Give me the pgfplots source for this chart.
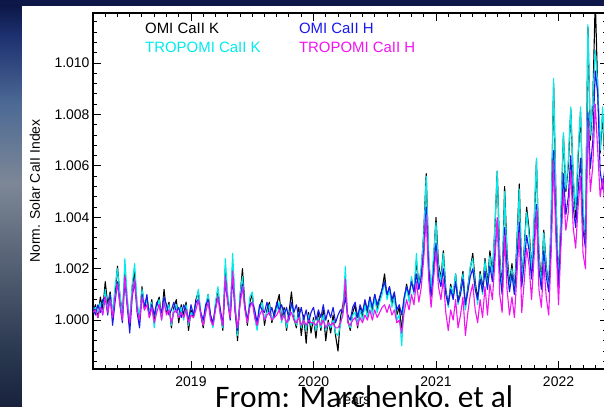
\documentclass[border=0pt]{standalone}
\usepackage{fontspec}
\setmainfont{Liberation Sans}
\newfontfamily\slidefont{Carlito}
\usepackage{pgfplots}
\usepackage{pgfplotstable}
\pgfplotsset{compat=1.18}

% series colours
\definecolor{omik}{RGB}{0,0,0}
\definecolor{tropk}{RGB}{0,235,235}
\definecolor{omih}{RGB}{25,25,235}
\definecolor{troph}{RGB}{240,20,240}

% slide background (TikZ maps the 25bp..75bp band of a shading onto the path)
\definecolor{slidetop}{RGB}{13,24,72}
\definecolor{bgA}{RGB}{29,48,112}
\definecolor{bgB}{RGB}{77,106,149}
\definecolor{bgC}{RGB}{125,135,150}
\definecolor{bgD}{RGB}{90,102,120}
\definecolor{bgE}{RGB}{42,56,80}
\definecolor{bgF}{RGB}{24,34,60}
\pgfdeclareverticalshading{slidestrip}{100bp}{%
  color(0bp)=(bgF); color(25bp)=(bgF); color(31.9bp)=(bgE); color(44.2bp)=(bgD);
  color(52.8bp)=(bgC); color(62.7bp)=(bgB); color(71.3bp)=(bgA);
  color(75bp)=(slidetop); color(100bp)=(slidetop)}

% normalised Ca II index: time [yr], OMI K, TROPOMI K, OMI H, TROPOMI H
\pgfplotstableread{
t K TK H TH
2018.20 1.0003 1.0004 1.0005 1.0003
2018.22 1.0006 1.0005 1.0002 1.0004
2018.24 1.0001 1.0003 1.0006 1.0001
2018.26 1.0009 1.0007 1.0003 1.0005
2018.28 1.0004 1.0002 1.0008 1.0002
2018.30 1.0015 1.0012 1.0009 1.0009
2018.32 1.0006 1.0004 1.0002 1.0003
2018.34 1.0011 1.0010 1.0010 1.0008
2018.36 1.0002 1.0003 0.9998 1.0001
2018.38 1.0010 1.0013 1.0007 1.0009
2018.40 1.0021 1.0020 1.0015 1.0014
2018.42 1.0009 1.0010 1.0006 1.0006
2018.44 1.0003 1.0001 0.9999 1.0000
2018.46 1.0018 1.0024 1.0016 1.0017
2018.48 1.0007 1.0009 1.0005 1.0006
2018.50 0.9998 0.9999 0.9995 0.9999
2018.52 1.0013 1.0014 1.0009 1.0010
2018.54 1.0019 1.0022 1.0015 1.0016
2018.56 1.0005 1.0007 1.0003 1.0004
2018.58 1.0000 1.0001 0.9997 1.0000
2018.60 1.0013 1.0012 1.0010 1.0009
2018.62 1.0004 1.0006 1.0005 1.0004
2018.64 1.0009 1.0008 1.0010 1.0006
2018.66 1.0002 1.0003 1.0001 1.0001
2018.68 1.0008 1.0007 1.0006 1.0005
2018.70 0.9999 0.9997 1.0002 0.9999
2018.72 1.0006 1.0005 1.0007 1.0003
2018.74 1.0009 1.0008 1.0005 1.0006
2018.76 1.0001 1.0000 1.0003 1.0000
2018.78 1.0012 1.0009 1.0009 1.0007
2018.80 1.0003 1.0004 1.0006 1.0002
2018.82 1.0007 1.0006 1.0002 1.0004
2018.84 0.9997 0.9998 1.0004 0.9999
2018.86 1.0005 1.0004 1.0007 1.0003
2018.88 1.0008 1.0006 1.0003 1.0004
2018.90 0.9999 1.0001 1.0005 1.0001
2018.92 1.0006 1.0005 1.0001 1.0003
2018.94 1.0002 1.0000 1.0006 1.0001
2018.96 1.0007 1.0006 1.0004 1.0004
2018.98 0.9996 0.9998 1.0000 0.9999
2019.00 1.0004 1.0003 1.0006 1.0002
2019.02 1.0001 1.0002 1.0002 1.0001
2019.04 1.0008 1.0006 1.0007 1.0004
2019.06 1.0011 1.0012 1.0008 1.0008
2019.08 1.0002 1.0003 1.0003 1.0002
2019.10 0.9997 0.9998 1.0000 0.9998
2019.12 1.0005 1.0006 1.0006 1.0003
2019.14 1.0010 1.0010 1.0008 1.0007
2019.16 1.0001 1.0000 1.0002 1.0000
2019.18 0.9998 0.9997 0.9999 0.9998
2019.20 1.0006 1.0007 1.0005 1.0004
2019.22 1.0012 1.0013 1.0009 1.0009
2019.24 1.0003 1.0002 1.0004 1.0002
2019.26 0.9996 0.9997 0.9998 0.9998
2019.28 1.0020 1.0024 1.0015 1.0017
2019.30 1.0008 1.0010 1.0007 1.0007
2019.32 1.0002 1.0003 1.0000 1.0001
2019.34 1.0022 1.0026 1.0017 1.0019
2019.36 1.0005 1.0007 1.0003 1.0004
2019.38 0.9992 0.9994 0.9996 0.9997
2019.40 1.0009 1.0010 1.0007 1.0006
2019.42 1.0020 1.0017 1.0014 1.0013
2019.44 1.0006 1.0005 1.0005 1.0004
2019.46 0.9998 0.9999 1.0000 0.9999
2019.48 1.0007 1.0009 1.0006 1.0005
2019.50 1.0010 1.0011 1.0007 1.0007
2019.52 1.0002 1.0001 1.0004 1.0001
2019.54 0.9997 0.9996 0.9999 0.9998
2019.56 1.0005 1.0004 1.0006 1.0002
2019.58 1.0008 1.0007 1.0004 1.0004
2019.60 0.9998 1.0000 1.0003 1.0000
2019.62 1.0004 1.0003 1.0007 1.0002
2019.64 1.0007 1.0006 1.0002 1.0003
2019.66 0.9999 1.0000 1.0005 1.0000
2019.68 1.0003 1.0002 1.0001 1.0001
2019.70 1.0006 1.0004 1.0007 1.0002
2019.72 1.0010 1.0007 1.0004 1.0004
2019.74 1.0000 0.9999 1.0006 1.0000
2019.76 1.0005 1.0004 1.0002 1.0002
2019.78 0.9996 0.9997 1.0005 0.9999
2019.80 1.0003 1.0002 1.0000 1.0001
2019.82 1.0011 1.0006 1.0007 1.0003
2019.84 1.0001 1.0002 1.0003 1.0000
2019.86 0.9997 0.9998 1.0006 0.9999
2019.88 1.0005 1.0003 1.0001 1.0001
2019.90 0.9994 0.9997 1.0005 0.9998
2019.92 1.0002 1.0001 1.0000 1.0000
2019.94 0.9991 0.9996 1.0004 0.9998
2019.96 1.0003 1.0002 0.9999 1.0000
2019.98 0.9995 0.9998 1.0003 0.9999
2020.00 1.0001 1.0000 1.0005 0.9999
2020.02 0.9993 0.9996 1.0000 0.9998
2020.04 1.0003 1.0001 1.0004 1.0000
2020.06 0.9996 0.9997 1.0001 0.9998
2020.08 1.0004 1.0002 1.0006 1.0000
2020.10 0.9992 0.9996 1.0000 0.9997
2020.12 1.0000 0.9999 1.0004 0.9999
2020.14 0.9995 0.9997 1.0001 0.9998
2020.16 1.0002 1.0000 1.0005 0.9999
2020.18 0.9994 0.9995 0.9999 0.9997
2020.20 0.9988 0.9994 1.0002 0.9997
2020.22 1.0001 0.9998 1.0004 0.9999
2020.24 1.0006 1.0004 1.0003 1.0002
2020.26 1.0013 1.0021 1.0009 1.0016
2020.28 1.0000 0.9999 1.0002 0.9999
2020.30 0.9996 0.9997 1.0000 0.9998
2020.32 1.0003 1.0002 1.0005 1.0000
2020.34 1.0006 1.0003 1.0007 1.0001
2020.36 0.9997 0.9998 1.0001 0.9998
2020.38 1.0005 1.0004 1.0006 1.0001
2020.40 1.0001 1.0000 1.0003 0.9999
2020.42 1.0007 1.0006 1.0008 1.0002
2020.44 1.0002 1.0001 1.0004 1.0000
2020.46 1.0009 1.0008 1.0009 1.0004
2020.48 1.0003 1.0002 1.0005 1.0000
2020.50 1.0010 1.0009 1.0010 1.0004
2020.52 1.0004 1.0003 1.0006 1.0001
2020.54 1.0008 1.0007 1.0009 1.0003
2020.56 1.0012 1.0010 1.0012 1.0005
2020.58 1.0018 1.0015 1.0015 1.0006
2020.60 1.0009 1.0008 1.0010 1.0003
2020.62 1.0013 1.0012 1.0013 1.0006
2020.64 1.0006 1.0005 1.0008 1.0002
2020.66 1.0010 1.0009 1.0011 1.0004
2020.68 1.0002 1.0000 1.0004 0.9999
2020.70 1.0005 1.0002 1.0006 1.0000
2020.72 0.9996 0.9990 1.0002 0.9995
2020.74 1.0008 1.0007 1.0009 1.0003
2020.76 1.0014 1.0013 1.0013 1.0008
2020.78 1.0009 1.0007 1.0010 1.0004
2020.80 1.0016 1.0017 1.0015 1.0010
2020.82 1.0011 1.0010 1.0011 1.0006
2020.84 1.0023 1.0026 1.0018 1.0015
2020.86 1.0014 1.0012 1.0012 1.0007
2020.88 1.0020 1.0021 1.0017 1.0013
2020.90 1.0034 1.0033 1.0027 1.0024
2020.92 1.0057 1.0056 1.0044 1.0041
2020.94 1.0024 1.0026 1.0020 1.0016
2020.96 1.0010 1.0011 1.0009 1.0005
2020.98 1.0023 1.0025 1.0019 1.0016
2021.00 1.0040 1.0038 1.0030 1.0027
2021.02 1.0022 1.0020 1.0017 1.0013
2021.04 1.0016 1.0015 1.0013 1.0008
2021.06 1.0027 1.0026 1.0020 1.0016
2021.08 1.0012 1.0011 1.0010 1.0003
2021.10 1.0006 1.0005 1.0006 0.9996
2021.12 1.0014 1.0013 1.0012 1.0004
2021.14 1.0009 1.0010 1.0008 1.0000
2021.16 1.0018 1.0018 1.0015 1.0008
2021.18 1.0007 1.0006 1.0007 0.9997
2021.20 1.0012 1.0011 1.0010 1.0002
2021.22 1.0019 1.0018 1.0016 1.0009
2021.24 1.0005 1.0004 1.0006 0.9994
2021.26 1.0013 1.0012 1.0011 1.0003
2021.28 1.0020 1.0021 1.0017 1.0010
2021.30 1.0026 1.0024 1.0020 1.0014
2021.32 1.0015 1.0013 1.0012 1.0004
2021.34 1.0008 1.0006 1.0008 0.9999
2021.36 1.0019 1.0018 1.0016 1.0008
2021.38 1.0012 1.0010 1.0011 1.0001
2021.40 1.0024 1.0023 1.0019 1.0013
2021.42 1.0014 1.0012 1.0012 1.0002
2021.44 1.0027 1.0025 1.0021 1.0014
2021.46 1.0018 1.0017 1.0015 1.0008
2021.48 1.0035 1.0036 1.0026 1.0022
2021.50 1.0058 1.0058 1.0039 1.0040
2021.52 1.0025 1.0024 1.0019 1.0010
2021.54 1.0012 1.0010 1.0010 1.0003
2021.56 1.0052 1.0050 1.0036 1.0033
2021.58 1.0026 1.0024 1.0020 1.0012
2021.60 1.0014 1.0012 1.0011 1.0002
2021.62 1.0022 1.0020 1.0018 1.0009
2021.64 1.0011 1.0010 1.0010 1.0001
2021.66 1.0030 1.0028 1.0023 1.0017
2021.68 1.0053 1.0051 1.0038 1.0034
2021.70 1.0016 1.0015 1.0013 1.0003
2021.72 1.0028 1.0027 1.0022 1.0015
2021.74 1.0044 1.0042 1.0033 1.0028
2021.76 1.0035 1.0033 1.0027 1.0021
2021.78 1.0020 1.0019 1.0016 1.0008
2021.80 1.0036 1.0038 1.0028 1.0024
2021.82 1.0062 1.0063 1.0045 1.0043
2021.84 1.0026 1.0025 1.0020 1.0012
2021.86 1.0015 1.0013 1.0012 1.0005
2021.88 1.0035 1.0034 1.0027 1.0022
2021.90 1.0021 1.0020 1.0017 1.0009
2021.92 1.0013 1.0011 1.0011 1.0002
2021.94 1.0038 1.0040 1.0030 1.0026
2021.96 1.0092 1.0094 1.0066 1.0062
2021.98 1.0045 1.0046 1.0035 1.0030
2022.00 1.0014 1.0012 1.0013 1.0006
2022.02 1.0040 1.0042 1.0033 1.0029
2022.04 1.0072 1.0073 1.0057 1.0050
2022.06 1.0050 1.0051 1.0041 1.0035
2022.08 1.0060 1.0062 1.0048 1.0042
2022.10 1.0082 1.0083 1.0064 1.0058
2022.12 1.0055 1.0056 1.0044 1.0036
2022.14 1.0040 1.0043 1.0036 1.0028
2022.16 1.0063 1.0065 1.0050 1.0044
2022.18 1.0081 1.0083 1.0063 1.0056
2022.20 1.0042 1.0044 1.0035 1.0026
2022.22 1.0030 1.0032 1.0028 1.0020
2022.24 1.0114 1.0115 1.0081 1.0078
2022.26 1.0070 1.0072 1.0059 1.0050
2022.28 1.0085 1.0087 1.0070 1.0060
2022.30 1.0125 1.0105 1.0097 1.0084
2022.32 1.0090 1.0092 1.0088 1.0066
2022.34 1.0065 1.0066 1.0058 1.0048
2022.36 1.0080 1.0083 1.0051 1.0055
2022.38 1.0060 1.0062 1.0060 1.0044
}\calldata

\begin{document}
\begin{tikzpicture}[x=1bp,y=1bp]
  % slide behind the figure
  \fill[slidetop] (0,0) rectangle (604,406);
  \shade[shading=slidestrip] (0,0) rectangle (22,400);
  \fill[white] (22,0) rectangle (604,400);

  \begin{axis}[
      at={(93bp,37bp)}, anchor=south west,
      scale only axis, width=514.5bp, height=356bp,
      xmin=2018.2, xmax=2022.4,
      ymin=0.9981, ymax=1.01195,
      axis line style={line width=1.2bp},
      every tick/.style={black, line width=1bp},
      major tick length=8bp, minor tick length=4.5bp,
      xtick={2018,2019,2020,2021,2022,2023}, minor x tick num=9,
      ytick={0.998,1.000,1.002,1.004,1.006,1.008,1.010,1.012}, minor y tick num=4,
      scaled ticks=false,
      /pgf/number format/assume math mode=true,
      xticklabel style={/pgf/number format/1000 sep={}, yshift=-4bp},
      yticklabel style={/pgf/number format/.cd, fixed, fixed zerofill, precision=3},
      tick label style={font=\fontsize{14}{16}\selectfont},
      xlabel={Years},
      ylabel={Norm. Solar CaII Index},
      every axis x label/.style={at={(axis description cs:0.505,-0.101)}, anchor=base,
        font=\fontsize{14}{16}\selectfont},
      every axis y label/.style={at={(axis description cs:-0.113,0.5)}, rotate=90, anchor=center,
        font=\fontsize{14}{16}\selectfont},
      every axis plot/.append style={line width=1.1bp, line join=round},
    ]
    \addplot[omik]  table[x=t, y=K]  {\calldata};
    \addplot[tropk] table[x=t, y=TK] {\calldata};
    \addplot[omih]  table[x=t, y=H]  {\calldata};
    \addplot[troph] table[x=t, y=TH] {\calldata};

    % key, written as coloured text
    \begin{scope}[every node/.style={anchor=west, inner sep=0pt, font=\fontsize{15}{17}\selectfont}]
      \node[text=omik]  at (axis description cs:0.101,0.958) {OMI CaII K};
      \node[text=omih]  at (axis description cs:0.400,0.958) {OMI CaII H};
      \node[text=tropk] at (axis description cs:0.101,0.904) {TROPOMI CaII K};
      \node[text=troph] at (axis description cs:0.400,0.904) {TROPOMI CaII H};
    \end{scope}
  \end{axis}

  \node[anchor=base west, inner sep=0pt, font=\slidefont\fontsize{31.5}{36}\selectfont]
    at (215,-1) {From: Marchenko, et al};

  \pgfresetboundingbox
  \path[use as bounding box] (0,0) rectangle (604,406);
\end{tikzpicture}
\end{document}
